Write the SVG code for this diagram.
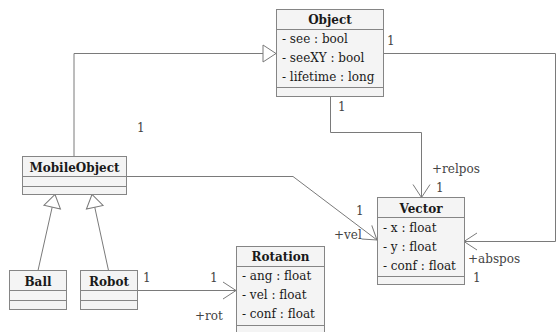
<svg xmlns="http://www.w3.org/2000/svg" width="556" height="332" viewBox="0 0 556 332">
<style>
.box{fill:#f4f4f4;stroke:#858585;stroke-width:1}
.sep{stroke:#858585;stroke-width:1}
.title{font-family:"DejaVu Serif",serif;font-size:12px;font-weight:bold;fill:#1a1a1a;text-anchor:middle}
.attr{font-family:"DejaVu Serif",serif;font-size:12px;fill:#1a1a1a}
.lbl{font-family:"DejaVu Serif",serif;font-size:12px;fill:#444}
.edge{fill:none;stroke:#7a7a7a;stroke-width:1}
</style>
<defs>
<marker id="open" viewBox="-1 -10 16 20" refX="13" refY="0" markerWidth="16" markerHeight="20" markerUnits="userSpaceOnUse" orient="auto">
<path d="M0,-8.5 L13,0 L0,8.5" fill="none" stroke="#7a7a7a" stroke-width="1"/>
</marker>
<marker id="gen" viewBox="-1 -10 16 20" refX="13" refY="0" markerWidth="16" markerHeight="20" markerUnits="userSpaceOnUse" orient="auto">
<path d="M0,-8.5 L13,0 L0,8.5 Z" fill="#fff" stroke="#7a7a7a" stroke-width="1"/>
</marker>
</defs>
<g id="connectors">
<path class="edge" d="M74,156.5 L74,53.5 L276,53.5" marker-end="url(#gen)"/>
<path class="edge" d="M38,270.5 L55,194.5" marker-end="url(#gen)"/>
<path class="edge" d="M108.5,270.5 L92,194.5" marker-end="url(#gen)"/>
<path class="edge" d="M126,176.5 L293,176.5 L377,240" marker-end="url(#open)"/>
<path class="edge" d="M330.5,96.5 L330.5,132.5 L421.5,132.5 L421.5,197.5" marker-end="url(#open)"/>
<path class="edge" d="M384,53.5 L555.5,53.5 L555.5,241.5 L464,241.5" marker-end="url(#open)"/>
<path class="edge" d="M137,290.5 L236,290.5" marker-end="url(#open)"/>
<text class="lbl" x="137" y="132">1</text>
<text class="lbl" x="387" y="45">1</text>
<text class="lbl" x="338" y="111">1</text>
<text class="lbl" x="432" y="173">+relpos</text>
<text class="lbl" x="436" y="192">1</text>
<text class="lbl" x="356" y="215">1</text>
<text class="lbl" x="334" y="239">+vel</text>
<text class="lbl" x="468" y="263">+abspos</text>
<text class="lbl" x="473" y="282">1</text>
<text class="lbl" x="143" y="282">1</text>
<text class="lbl" x="210" y="282">1</text>
<text class="lbl" x="195" y="320">+rot</text>
</g>
<g id="Object">
<rect class="box" x="276.5" y="9.5" width="107" height="87"/>
<line class="sep" x1="276.5" y1="29.5" x2="383.5" y2="29.5"/>
<line class="sep" x1="276.5" y1="87.5" x2="383.5" y2="87.5"/>
<text class="title" x="330" y="24">Object</text>
<text class="attr" x="282" y="43">- see : bool</text>
<text class="attr" x="282" y="62">- seeXY : bool</text>
<text class="attr" x="282" y="81">- lifetime : long</text>
</g>
<g id="Vector">
<rect class="box" x="377.5" y="197.5" width="87" height="87"/>
<line class="sep" x1="377.5" y1="217.5" x2="464.5" y2="217.5"/>
<line class="sep" x1="377.5" y1="276.5" x2="464.5" y2="276.5"/>
<text class="title" x="421" y="212.5">Vector</text>
<text class="attr" x="383" y="231.5">- x : float</text>
<text class="attr" x="383" y="250.5">- y : float</text>
<text class="attr" x="383" y="269.5">- conf : float</text>
</g>
<g id="Rotation">
<rect class="box" x="236.5" y="246.5" width="88" height="88"/>
<line class="sep" x1="236.5" y1="266.5" x2="324.5" y2="266.5"/>
<line class="sep" x1="236.5" y1="325.5" x2="324.5" y2="325.5"/>
<text class="title" x="280.5" y="261">Rotation</text>
<text class="attr" x="242" y="280">- ang : float</text>
<text class="attr" x="242" y="299">- vel : float</text>
<text class="attr" x="242" y="318">- conf : float</text>
</g>
<g id="MobileObject">
<rect class="box" x="22.5" y="156.5" width="104" height="38"/>
<line class="sep" x1="22.5" y1="176.5" x2="126.5" y2="176.5"/>
<line class="sep" x1="22.5" y1="186.5" x2="126.5" y2="186.5"/>
<text class="title" x="74.5" y="171.5">MobileObject</text>
</g>
<g id="Ball">
<rect class="box" x="9.5" y="270.5" width="57" height="39"/>
<line class="sep" x1="9.5" y1="290.5" x2="66.5" y2="290.5"/>
<line class="sep" x1="9.5" y1="300.5" x2="66.5" y2="300.5"/>
<text class="title" x="38" y="285.5">Ball</text>
</g>
<g id="Robot">
<rect class="box" x="80.5" y="270.5" width="57" height="39"/>
<line class="sep" x1="80.5" y1="290.5" x2="137.5" y2="290.5"/>
<line class="sep" x1="80.5" y1="300.5" x2="137.5" y2="300.5"/>
<text class="title" x="109" y="285.5">Robot</text>
</g>
</svg>
